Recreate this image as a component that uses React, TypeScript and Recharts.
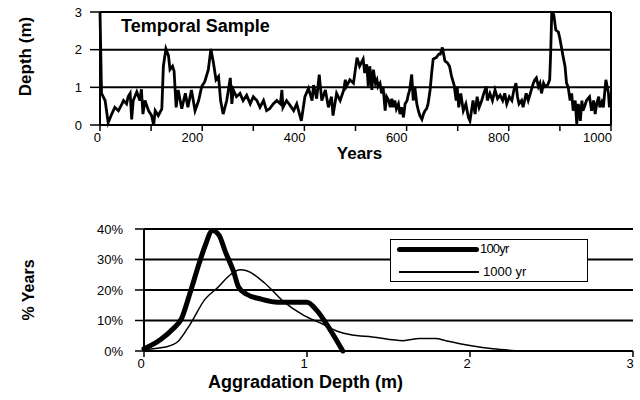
import { LineChart, Line, XAxis, YAxis, CartesianGrid, Label, Legend } from 'recharts';

// Temporal sample: depth (m) against years
const sampleYears = [
  0, 3, 10, 16, 23, 29, 36, 43, 46, 52, 55, 59, 62, 65, 72, 78, 81, 84, 88, 95,
  101, 105, 108, 114, 121, 124, 129, 134, 137, 142, 145, 149, 153, 160, 167, 172, 179, 186, 193,
  199, 205, 212, 217, 222, 227, 232, 236, 241, 248, 255, 258, 261, 267, 274, 280, 287,
  294, 300, 307, 313, 320, 326, 332, 339, 346, 353, 356, 358, 365, 372, 379, 385,
  394, 401, 408, 415, 418, 424, 429, 434, 441, 447, 453, 456, 463, 470, 477, 480, 482,
  489, 496, 503, 508, 515, 518, 522, 525, 528, 532, 535, 539, 542, 544, 548, 551, 554, 558, 561,
  565, 568, 571, 574, 577, 580, 584, 587, 590, 594, 597, 601, 603, 606, 610, 613, 616, 620,
  623, 626, 630, 633, 636, 639, 642, 646, 649, 652, 658, 663, 666, 670, 675,
  680, 684, 688, 693, 697, 699, 702, 706, 711, 716, 721, 724, 730, 734, 738, 742, 747, 752,
  756, 758, 763, 768, 773, 778, 783, 788, 792, 796, 801, 806, 810, 814, 817, 820,
  825, 828, 834, 838, 843, 848, 851, 854, 858, 861, 864, 868, 871, 876, 880, 882, 884, 888,
  892, 897, 900, 906, 910, 913, 916, 920, 923, 926, 930, 933, 936, 940, 943, 945, 949,
  952, 958, 962, 966, 969, 972, 976, 978, 982, 985, 990, 995, 997,
];
const sampleDepth = [
  3.0, 0.84, 0.65, 0.06, 0.29, 0.47, 0.38, 0.56, 0.65, 0.56, 0.75, 0.84, 0.15, 0.65, 0.88, 0.65, 0.95, 0.29, 0.65, 0.38,
  0.25, 0.0, 0.38, 0.25, 0.43, 1.56, 2.02, 1.84, 1.47, 1.56, 1.43, 0.47, 0.93, 0.43, 0.84, 0.47, 0.93, 0.38, 0.65,
  1.02, 1.15, 1.47, 2.02, 1.65, 1.2, 1.29, 0.65, 0.29, 0.65, 1.25, 0.56, 0.93, 0.75, 0.84, 0.65, 0.79,
  0.56, 0.75, 0.65, 0.47, 0.65, 0.38, 0.43, 0.56, 0.65, 0.56, 0.93, 0.47, 0.65, 0.52, 0.38, 0.56,
  0.11, 0.75, 0.97, 0.65, 1.06, 0.7, 1.34, 0.65, 0.93, 0.47, 0.75, 0.25, 0.84, 0.65, 0.93, 1.2, 1.02,
  1.2, 1.11, 1.79, 1.56, 1.75, 1.38, 1.61, 1.02, 1.56, 0.93, 1.47, 1.11, 1.2, 1.02, 1.11, 0.84, 1.02, 0.38, 0.75,
  0.65, 0.47, 0.7, 0.47, 0.65, 0.43, 0.56, 0.29, 0.47, 0.2, 0.56, 0.65, 0.79, 0.93, 1.34, 0.65, 1.02, 0.56,
  0.38, 0.25, 0.15, 0.29, 0.38, 0.43, 0.56, 0.93, 1.38, 1.75, 1.79, 1.88, 1.88, 2.06, 1.7,
  1.65, 1.56, 1.29, 1.06, 0.65, 1.02, 0.47, 0.84, 0.38, 0.56, 0.2, 0.11, 0.65, 0.29, 0.75, 0.47, 0.65, 0.88,
  1.02, 0.65, 0.84, 0.65, 0.93, 0.7, 0.79, 0.65, 0.84, 0.56, 0.75, 0.65, 0.93, 1.11, 0.75, 0.56,
  0.65, 0.47, 0.84, 0.65, 0.88, 1.11, 1.2, 1.25, 1.02, 1.11, 0.84, 1.11, 1.02, 1.06, 1.2, 1.93, 2.97, 2.93,
  2.52, 2.47, 2.29, 1.84, 1.56, 1.11, 1.02, 0.65, 0.84, 0.38, 0.65, 0.02, 0.56, 0.11, 0.65, 0.38, 0.52,
  0.65, 0.75, 0.38, 0.65, 0.29, 0.56, 0.75, 0.47, 0.61, 0.47, 1.2, 0.84, 0.47,
];
const yearTicks = [0, 100, 200, 300, 400, 500, 600, 700, 800, 900, 1000];
const depthTicks = [0, 1, 2, 3];

// Distribution of aggradation depth (% of years)
const depth100yr = [0, 0.1, 0.18, 0.23, 0.28, 0.34, 0.375, 0.42, 0.46, 0.5, 0.55, 0.58, 0.63, 0.72, 0.82, 1.0, 1.06, 1.13, 1.19, 1.22];
const pct100yr = [0.7, 3.7, 7.4, 10.6, 18.6, 29, 34.5, 39.5, 38, 32.4, 26, 21, 18.6, 17, 16, 16, 13.3, 8, 2.7, 0];
const depth1000yr = [0, 0.14, 0.21, 0.28, 0.375, 0.45, 0.53, 0.59, 0.63, 0.74, 0.86, 0.98, 1.09, 1.19, 1.27, 1.4, 1.59, 1.69, 1.79, 1.85, 2.0, 2.14, 2.28];
const pct1000yr = [0.5, 1.4, 3.2, 8.5, 17, 20.7, 25, 26.6, 26.3, 22.3, 16, 11.7, 9, 6.4, 5.3, 4.6, 3.4, 4.1, 4.1, 3.4, 1.8, 0.7, 0.1];
const aggTicks = [0, 1, 2, 3];
const pctTicks = [0, 10, 20, 30, 40];

const temporalData = sampleYears.map((year, i) => ({ year, depth: sampleDepth[i] }));
const data100 = depth100yr.map((d, i) => ({ agg: d, pct: pct100yr[i] }));
const data1000 = depth1000yr.map((d, i) => ({ agg: d, pct: pct1000yr[i] }));

const FONT = '"Liberation Sans", Arial, sans-serif';
const tickStyle = { fill: '#000', fontSize: 13, fontFamily: FONT };
const titleStyle = (size: number) => ({ fill: '#000', fontSize: size, fontWeight: 700, fontFamily: FONT });
const axisLine = { stroke: '#000', strokeWidth: 2 };
const tickLine = { stroke: '#000', strokeWidth: 1.5 };

// legend rows: thick 100yr on top, thin 1000 yr below
const LegendBox = ({ payload }: any) => {
  const rows = [...(payload || [])].sort((a: any, b: any) => (a.value === '100yr' ? -1 : b.value === '100yr' ? 1 : 0));
  return (
    <div
      style={{
        width: 196,
        height: 41,
        border: '1.5px solid #000',
        background: '#fff',
        fontFamily: FONT,
        fontSize: 13,
        position: 'relative',
      }}
    >
      {rows.map((entry: any, i: number) => {
        const thick = entry.value === '100yr';
        const top = thick ? 9 : 32;
        return (
          <div key={`leg-${i}`}>
            <div
              style={{
                position: 'absolute',
                left: thick ? 6 : 8,
                top: top - (thick ? 2.5 : 0.75),
                width: thick ? 82 : 80,
                height: thick ? 5 : 1.5,
                background: '#000',
                borderRadius: thick ? 3 : 0,
              }}
            />
            <span
              style={{
                position: 'absolute',
                left: thick ? 89 : 92,
                top: top - 8,
                lineHeight: '16px',
                letterSpacing: thick ? -0.8 : 0,
                whiteSpace: 'nowrap',
              }}
            >
              {entry.value}
            </span>
          </div>
        );
      })}
    </div>
  );
};

export default function App() {
  return (
    <div style={{ position: 'absolute', left: 0, top: 0, width: 640, height: 400, background: '#fff', fontFamily: FONT }}>
      <div style={{ position: 'absolute', left: 0, top: 0 }}>
        <LineChart width={640} height={175} data={temporalData} margin={{ top: 12, right: 29, bottom: 0, left: 0 }}>
          <CartesianGrid stroke="#000" strokeWidth={2} verticalPoints={[611]} />
          <XAxis
            dataKey="year"
            type="number"
            domain={[0, 1000]}
            ticks={yearTicks}
            interval={0}
            tickFormatter={(v: number) => (v % 200 === 0 ? String(v) : '')}
            height={50}
            axisLine={axisLine}
            tickLine={tickLine}
            tickSize={6}
            tickMargin={2}
            tick={{ ...tickStyle, textAnchor: 'end', dx: 1 }}
          >
            <Label value="Years" position="center" dy={3} dx={4} style={titleStyle(17)} />
          </XAxis>
          <YAxis
            type="number"
            domain={[0, 3]}
            ticks={depthTicks}
            interval={0}
            width={100}
            axisLine={axisLine}
            tickLine={tickLine}
            tickSize={10}
            tickMargin={8}
            tick={tickStyle}
          >
            <Label value="Depth (m)" angle={-90} position="center" dx={-25} dy={-12} style={titleStyle(17)} />
          </YAxis>
          <Line
            dataKey="depth"
            type="linear"
            stroke="#000"
            strokeWidth={2.8}
            dot={false}
            isAnimationActive={false}
          />
        </LineChart>
        <div
          style={{
            position: 'absolute',
            left: 121,
            top: 16,
            fontSize: 18,
            fontWeight: 700,
            lineHeight: '20px',
            color: '#000',
            whiteSpace: 'nowrap',
          }}
        >
          Temporal Sample
        </div>
      </div>
      <div style={{ position: 'absolute', left: 0, top: 200 }}>
        <LineChart width={640} height={200} margin={{ top: 29, right: 7, bottom: 0, left: 0 }}>
          <CartesianGrid vertical={false} stroke="#000" strokeWidth={2} />
          <XAxis
            dataKey="agg"
            type="number"
            domain={[0, 3]}
            ticks={aggTicks}
            interval={0}
            height={49}
            axisLine={axisLine}
            tickLine={tickLine}
            tickSize={6}
            tickMargin={2}
            tick={{ ...tickStyle, dx: -3 }}
          >
            <Label value="Aggradation Depth (m)" position="center" dx={-83} dy={6} style={titleStyle(18)} />
          </XAxis>
          <YAxis
            type="number"
            domain={[0, 40]}
            ticks={pctTicks}
            interval={0}
            tickFormatter={(v: number) => `${v}%`}
            width={144}
            axisLine={axisLine}
            tickLine={tickLine}
            tickSize={9}
            tickMargin={12}
            tick={tickStyle}
          >
            <Label value="% Years" angle={-90} position="center" dx={-44} dy={0} style={titleStyle(16)} />
          </YAxis>
          <Legend
            layout="vertical"
            verticalAlign="middle"
            align="center"
            content={<LegendBox />}
            wrapperStyle={{ position: 'absolute', left: 390, top: 39, width: 200 }}
          />
          <Line
            data={data100}
            dataKey="pct"
            name="100yr"
            type="monotone"
            stroke="#000"
            strokeWidth={5}
            strokeLinecap="round"
            dot={false}
            isAnimationActive={false}
          />
          <Line
            data={data1000}
            dataKey="pct"
            name="1000 yr"
            type="monotone"
            stroke="#000"
            strokeWidth={1.5}
            dot={false}
            isAnimationActive={false}
          />
        </LineChart>
      </div>
    </div>
  );
}
